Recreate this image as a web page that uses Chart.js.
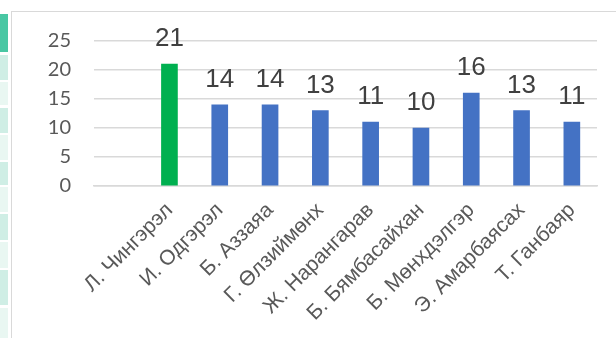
<!DOCTYPE html>
<html>
<head>
<meta charset="utf-8">
<script src="https://cdn.jsdelivr.net/npm/chart.js@4"></script>
<style>
  html, body { margin: 0; padding: 0; background: #fff; }
  #wrap { position: relative; width: 616px; height: 338px; overflow: hidden; }
  #frame { position: absolute; left: 11px; top: 11px; right: -2px; bottom: -2px; border: 1px solid #d9d9d9; }
  .cell { position: absolute; left: 0; width: 8px; }
  canvas { position: absolute; left: 0; top: 0; }
</style>
</head>
<body>
<div id="wrap">
  <div class="cell" style="top:14px;height:38px;background:#48c7a3"></div>
  <div class="cell" style="top:55px;height:25px;background:#cfeee5"></div>
  <div class="cell" style="top:82px;height:23px;background:#e9f7f2"></div>
  <div class="cell" style="top:108px;height:25px;background:#cfeee5"></div>
  <div class="cell" style="top:135px;height:25px;background:#e9f7f2"></div>
  <div class="cell" style="top:162px;height:23px;background:#cfeee5"></div>
  <div class="cell" style="top:187px;height:25px;background:#e9f7f2"></div>
  <div class="cell" style="top:214px;height:26px;background:#cfeee5"></div>
  <div class="cell" style="top:242px;height:26px;background:#e9f7f2"></div>
  <div class="cell" style="top:270px;height:35px;background:#cfeee5"></div>
  <div class="cell" style="top:308px;height:30px;background:#e9f7f2"></div>
  <div id="frame"></div>
  <canvas id="chart" width="616" height="338"></canvas>
</div>
<script>
  // Ажилчдын тоо (лавлагаа зурагнаас уншсан)
  var NAMES = ["", "Л. Чингэрэл", "И. Одгэрэл", "Б. Аззаяа", "Г. Өлзиймөнх", "Ж. Нарангарав",
               "Б. Бямбасайхан", "Б. Мөнхдэлгэр", "Э. Амарбаясах", "Т. Ганбаяр"];
  var VALUES = [null, 21, 14, 14, 13, 11, 10, 16, 13, 11];
  var Y_TICKS = [0, 5, 10, 15, 20, 25];

  var GREEN = "#00b050";
  var BLUE = "#4472c4";
  var GRID = "#d9d9d9";
  var TICK = "#595959";
  var LABEL = "#404040";

  // тоон шошго - баганын дээр
  var valueLabels = {
    id: "valueLabels",
    afterDatasetsDraw: function (chart) {
      var ctx = chart.ctx;
      var meta = chart.getDatasetMeta(0);
      ctx.save();
      ctx.font = "26px 'Liberation Sans', Arial, sans-serif";
      ctx.fillStyle = LABEL;
      ctx.textAlign = "center";
      ctx.textBaseline = "alphabetic";
      meta.data.forEach(function (bar, i) {
        if (VALUES[i] === null) return;
        ctx.fillText(String(VALUES[i]), bar.x, bar.y - 18);
      });
      ctx.restore();
    }
  };

  new Chart(document.getElementById("chart"), {
    type: "bar",
    data: {
      labels: NAMES,
      datasets: [{
        data: VALUES,
        backgroundColor: VALUES.map(function (v, i) { return i === 1 ? GREEN : BLUE; }),
        barThickness: 16,
        borderWidth: 0
      }]
    },
    options: {
      responsive: false,
      animation: false,
      devicePixelRatio: 1,
      layout: { padding: { top: 41, right: 19, left: 0, bottom: 0 } },
      plugins: { legend: { display: false }, tooltip: { enabled: false } },
      scales: {
        x: {
          grid: { display: false, drawTicks: false },
          border: { display: true, color: GRID, width: 1.5 },
          ticks: {
            color: TICK,
            font: { family: "'Liberation Sans', Arial, sans-serif", size: 21 },
            minRotation: 45,
            maxRotation: 45,
            autoSkip: false,
            padding: 12
          },
          afterFit: function (s) { s.height = 152; }
        },
        y: {
          min: 0,
          max: 25,
          afterBuildTicks: function (s) { s.ticks = Y_TICKS.map(function (v) { return { value: v }; }); },
          grid: { color: GRID, lineWidth: 1.5, drawTicks: false },
          border: { display: false },
          ticks: {
            color: TICK,
            font: { family: "Lato, 'Liberation Sans', sans-serif", size: 20 },
            padding: 23
          },
          afterFit: function (s) { s.width = 94; }
        }
      }
    },
    plugins: [valueLabels]
  });
</script>
</body>
</html>
